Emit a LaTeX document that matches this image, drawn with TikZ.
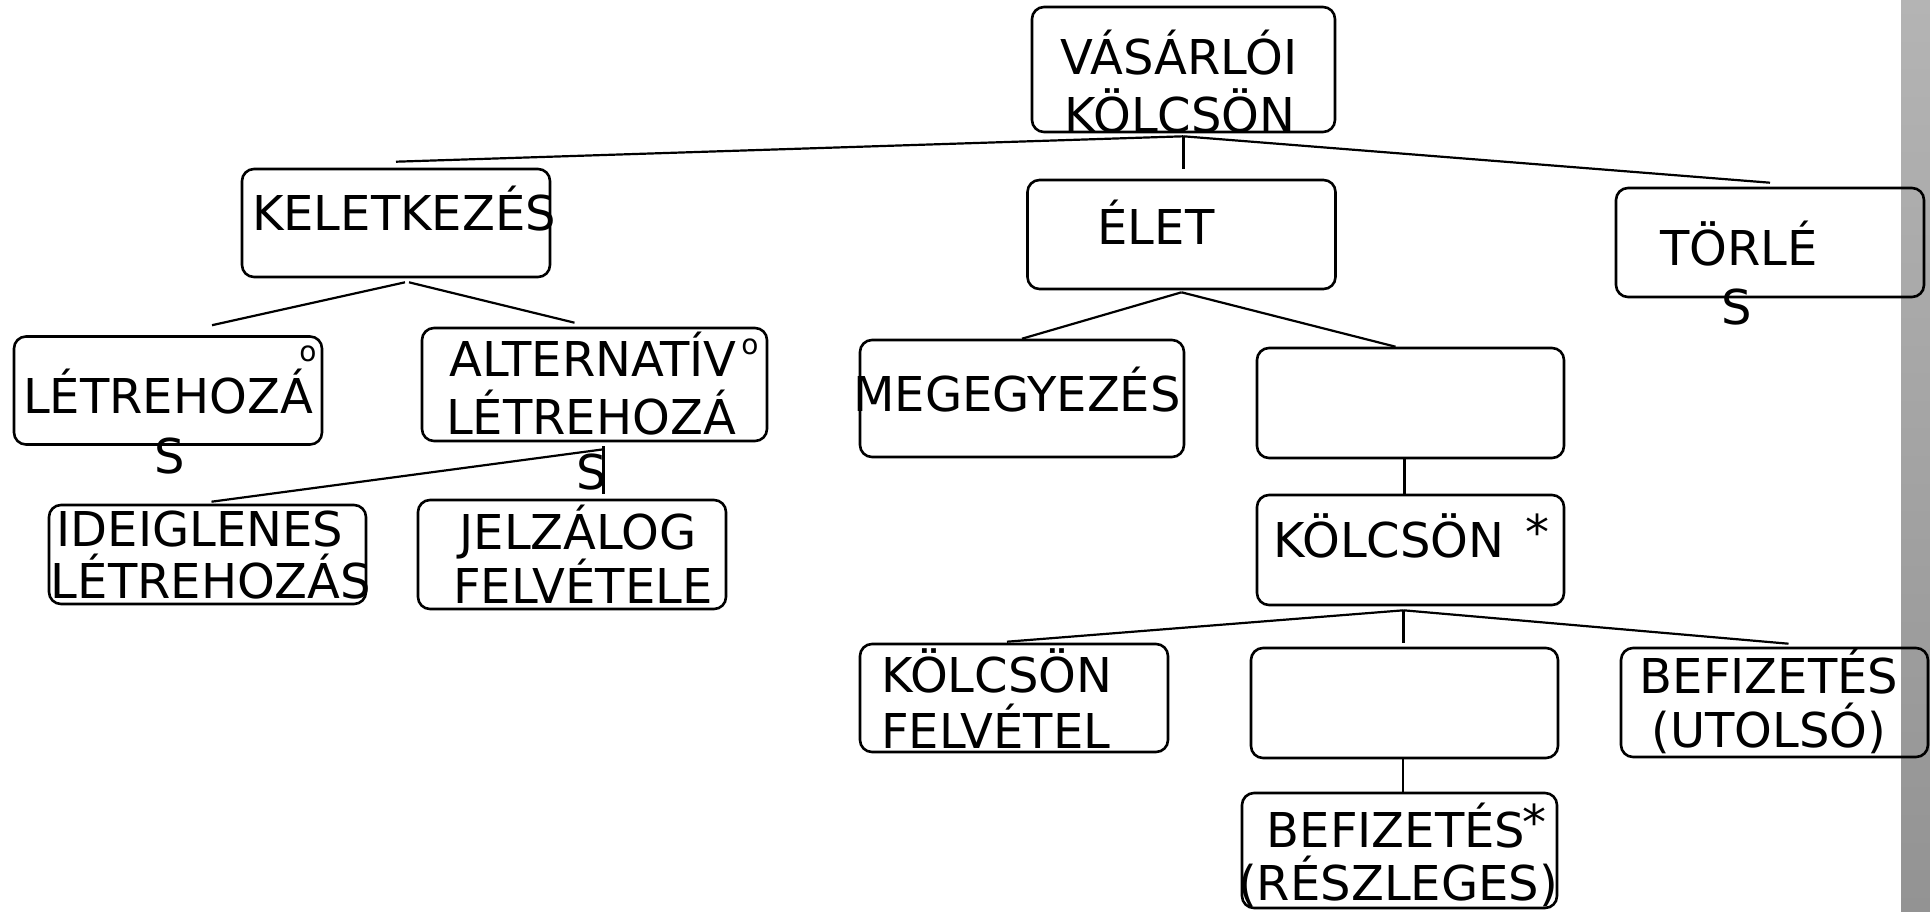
\documentclass[tikz,border=0pt]{standalone}
\usepackage{fontspec}
\newfontfamily\boxfont{DejaVu Sans}
\definecolor{barTop}{HTML}{B4B4B4}
\definecolor{barBot}{HTML}{939393}
\begin{document}
\begin{tikzpicture}[x=1pt, y=-1pt]
\tikzstyle{box}=[draw, rounded corners=12pt, line width=2.6pt, inner sep=0pt, minimum width=308pt, minimum height=108pt]
\tikzstyle{lbl}=[font=\boxfont\fontsize{48}{56}\selectfont, inner sep=0pt, text height=35pt, text depth=0pt]
\tikzstyle{sel}=[font=\boxfont\fontsize{28}{32}\selectfont, inner sep=0pt]
\tikzstyle{link}=[line width=2.2pt]
\useasboundingbox (0,0) rectangle (1930,911);
\fill[top color=barTop, bottom color=barBot] (1901,0) rectangle (1930,911);

% boxes
\node[box, minimum width=303pt, minimum height=125pt] (v) at (1183.5,69.5) {};
\node[box] (k) at (396,223) {};
\node[box, minimum height=109pt] (l) at (1181.5,234.5) {};
\node[box, minimum height=109pt] (t) at (1770,242.5) {};
\node[box] (lt) at (168,390.5) {};
\node[box, minimum width=345pt, minimum height=113pt] (al) at (594.5,384.5) {};
\node[box, minimum width=317pt, minimum height=99pt] (id) at (207.5,554.5) {};
\node[box, minimum height=109pt] (jz) at (572,554.5) {};
\node[box, minimum width=324pt, minimum height=117pt] (mg) at (1022,398.5) {};
\node[box, minimum width=307pt, minimum height=110pt] (u1) at (1410.5,403) {};
\node[box, minimum width=307pt, minimum height=110pt] (kl) at (1410.5,550) {};
\node[box] (kf) at (1014,698) {};
\node[box, minimum width=307pt, minimum height=110pt] (u2) at (1404.5,703) {};
\node[box, minimum width=307pt, minimum height=109pt] (bu) at (1774.5,702.5) {};
\node[box, minimum width=315pt, minimum height=115pt] (br) at (1399.5,850.5) {};

% texts
\node[lbl] (v1) at (1179,56.5) {VÁSÁRLÓI};
\node[lbl] (v2) at (1180,115) {KÖLCSÖN};
\node[lbl] (k1) at (404,213) {KELETKEZÉS};
\node[lbl] (l1) at (1156,226.5) {ÉLET};
\node[lbl] (t1) at (1739,247.5) {TÖRLÉ};
\node[lbl] (t2) at (1737,306.5) {S};
\node[lbl] (lt1) at (168,396) {LÉTREHOZÁ};
\node[lbl] (lt2) at (170,455.5) {S};
\node[sel] (lto) at (308,354) {o};
\node[lbl] (al1) at (593,359) {ALTERNATÍV};
\node[lbl] (al2) at (591,417) {LÉTREHOZÁ};
\node[lbl] (al3) at (592,471.5) {S};
\node[sel] (alo) at (750,347) {o};
\node[lbl] (id1) at (200,529) {IDEIGLENES};
\node[lbl] (id2) at (211,581) {LÉTREHOZÁS};
\node[lbl] (jz1) at (578,532) {JELZÁLOG};
\node[lbl] (jz2) at (583,586) {FELVÉTELE};
\node[lbl] (mg1) at (1017,394) {MEGEGYEZÉS};
\node[lbl] (kl1) at (1389,540) {KÖLCSÖN};
\node[lbl] (kls) at (1537,532) {*};
\node[lbl, anchor=west] (kf1) at (881,674.5) {KÖLCSÖN};
\node[lbl, anchor=west] (kf2) at (881,731) {FELVÉTEL};
\node[lbl] (bu1) at (1769,676) {BEFIZETÉS};
\node[lbl] (bu2) at (1769,730) {(UTOLSÓ)};
\node[lbl] (br1) at (1396,830) {BEFIZETÉS};
\node[lbl] (brs) at (1534,822) {*};
\node[lbl] (br2) at (1398,882.5) {(RÉSZLEGES)};

% connectors
\draw[link] ([yshift=-3pt]v.south) -- ([yshift=6pt]k.north);
\draw[link, shorten >=10pt] ([yshift=-3pt]v.south) -- (v.south |- l.north);
\draw[link] ([yshift=-3pt]v.south) -- ([yshift=4pt]t.north);
\draw[link] ([xshift=9pt,yshift=-4pt]k.south) -- ([xshift=44pt,yshift=10pt]lt.north);
\draw[link] ([xshift=13pt,yshift=-4pt]k.south) -- ([xshift=-20pt,yshift=4pt]al.north);
\draw[link] ([yshift=-2pt]l.south) -- (mg.north);
\draw[link] ([yshift=-2pt]l.south) -- ([xshift=-15pt]u1.north);
\draw[link] ([xshift=-6pt]u1.south) -- ([xshift=-6pt]kl.north);
\coordinate (ja) at ([xshift=9pt,yshift=-7pt]al.south);
\draw[link] (ja) -- ([xshift=4pt,yshift=2pt]id.north);
\draw[link, shorten >=5pt] ([yshift=3pt]ja) -- (ja |- jz.north);
\coordinate (jk) at ([xshift=-7pt,yshift=-4pt]kl.south);
\draw[link] (jk) -- ([xshift=-7pt,yshift=1pt]kf.north);
\draw[link, shorten >=4pt] (jk) -- (jk |- u2.north);
\draw[link] (jk) -- ([xshift=14pt,yshift=3pt]bu.north);
\draw[link] ([xshift=-1.5pt]u2.south) -- ([xshift=-1.5pt]u2.south |- br.north);
\end{tikzpicture}
\end{document}
